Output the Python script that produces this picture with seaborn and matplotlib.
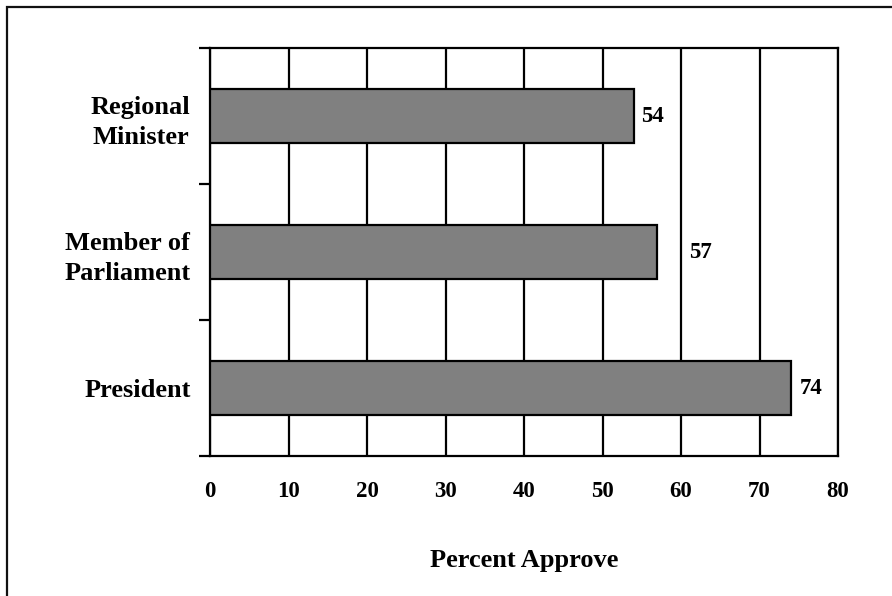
import matplotlib
matplotlib.use("Agg")
import matplotlib.pyplot as plt
from matplotlib.patches import Rectangle
import seaborn as sns
import pandas as pd

# Approval ratings by office
offices = ["Regional\nMinister", "Member of\nParliament", "President"]
approve = [54, 57, 74]
x_ticks = [0, 10, 20, 30, 40, 50, 60, 70, 80]
x_label = "Percent Approve"

# horizontal gap (points) between each bar end and its value label
label_pad = [5, 23, 6.5]

sns.set_theme(style="white")
plt.rcParams["font.family"] = ["Liberation Serif", "DejaVu Serif"]
plt.rcParams["font.weight"] = "bold"
plt.rcParams["text.color"] = "black"
plt.rcParams["axes.labelcolor"] = "black"
plt.rcParams["xtick.color"] = "black"
plt.rcParams["ytick.color"] = "black"

df = pd.DataFrame({"office": offices, "approve": approve})

fig = plt.figure(figsize=(8.92, 5.96), dpi=100)
ax = fig.add_axes([210 / 892, 1 - 456 / 596, (838 - 210) / 892, (456 - 48) / 596])

sns.barplot(data=df, x="approve", y="office", orient="h", color="#808080",
            saturation=1, width=0.4, edgecolor="black", linewidth=1.6,
            ax=ax, zorder=3)

ax.set_xlim(0, 80)
ax.set_ylim(2.5, -0.5)
ax.set_xticks(x_ticks)
ax.set_xticklabels([str(t) for t in x_ticks], fontsize=16.5, fontweight="bold")
ax.tick_params(axis="x", direction="out", length=7, width=1.6, color="black", pad=11)

# ticks on category boundaries, names between them
ax.set_yticks([-0.5, 0.5, 1.5, 2.5])
ax.set_yticklabels([])
ax.tick_params(axis="y", which="major", direction="out", length=8, width=1.6,
               color="black", left=True)
ax.set_yticks([0, 1, 2], minor=True)
ax.set_yticklabels(offices, minor=True, fontsize=19, fontweight="bold",
                   multialignment="center")
for lab in ax.get_yticklabels(minor=True):
    lab.set_linespacing(1.4)
ax.tick_params(axis="y", which="minor", length=0, pad=14)
ax.set_ylabel("")
ax.set_xlabel(x_label, fontsize=19, fontweight="bold", labelpad=34)

ax.grid(axis="x", color="black", linewidth=1.6, zorder=1)
ax.set_axisbelow(True)
for side in ["left", "bottom", "top", "right"]:
    ax.spines[side].set_visible(True)
    ax.spines[side].set_color("black")
    ax.spines[side].set_linewidth(1.6)

for bar, val, pad in zip(ax.patches, approve, label_pad):
    ax.annotate(str(val), xy=(bar.get_width(), bar.get_y() + bar.get_height() / 2),
                xytext=(pad, 0), textcoords="offset points",
                ha="left", va="center", fontsize=16.5, fontweight="bold",
                color="black")

# frame around the whole chart, running off the right and bottom edges
fig.patches.append(Rectangle((7 / 892, -0.1), 1.2, 1 - 7 / 596 + 0.1,
                             transform=fig.transFigure, fill=False,
                             edgecolor="#111111", linewidth=1.6))

fig.savefig("out.png", dpi=100)
